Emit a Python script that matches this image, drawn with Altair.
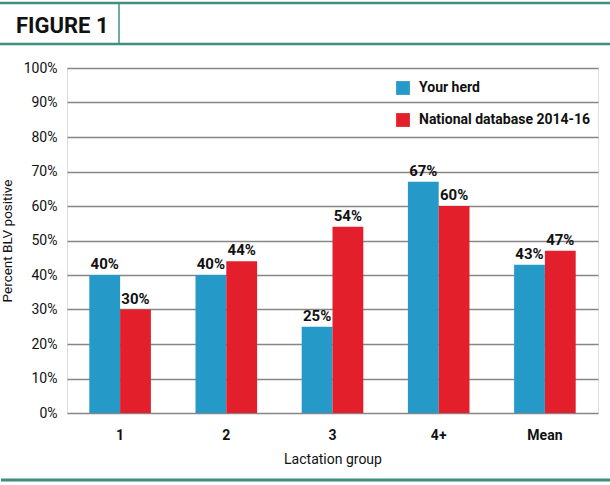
import altair as alt
import pandas as pd

# Share of cows testing BLV positive, by lactation group
groups = ["1", "2", "3", "4+", "Mean"]
your_herd = [40, 40, 25, 67, 43]
national = [30, 44, 54, 60, 47]
series_names = ["Your herd", "National database 2014-16"]
y_ticks = [0, 10, 20, 30, 40, 50, 60, 70, 80, 90, 100]

FONT = "Roboto, Liberation Sans, sans-serif"
BLUE = "#2599c8"
RED = "#e21f2b"
TEAL = "#3f8f7f"
INK = "#111111"

rows = []
for g, a, b in zip(groups, your_herd, national):
    rows.append({"group": g, "series": series_names[0], "value": a})
    rows.append({"group": g, "series": series_names[1], "value": b})
df = pd.DataFrame(rows)

W, H = 531, 345

x_enc = alt.X(
    "group:N",
    sort=groups,
    scale=alt.Scale(paddingInner=0.42, paddingOuter=0.21),
    axis=alt.Axis(
        title="Lactation group",
        labelAngle=0,
        labelFont=FONT,
        labelFontSize=14,
        labelFontWeight="bold",
        labelColor=INK,
        labelPadding=15,
        titleFont=FONT,
        titleFontSize=14,
        titleFontWeight="normal",
        titleColor=INK,
        titlePadding=10,
        domain=False,
        ticks=False,
    ),
)
y_enc = alt.Y(
    "value:Q",
    scale=alt.Scale(domain=[0, 100], nice=False),
    axis=alt.Axis(
        title="Percent BLV positive",
        values=y_ticks,
        tickCount=11,
        labelOverlap=False,
        labelExpr="datum.value + '%'",
        labelFont=FONT,
        labelFontSize=14,
        labelColor=INK,
        labelPadding=10,
        titleFont=FONT,
        titleFontSize=13.5,
        titleFontWeight="normal",
        titleColor=INK,
        titlePadding=9,
        domain=False,
        ticks=False,
        grid=True,
        gridColor="#868686",
        gridWidth=1.7,
    ),
)
color_enc = alt.Color(
    "series:N",
    sort=series_names,
    scale=alt.Scale(domain=series_names, range=[BLUE, RED]),
    legend=alt.Legend(
        title=None,
        orient="none",
        legendX=329,
        legendY=13,
        symbolType="square",
        symbolSize=190,
        symbolStrokeWidth=0,
        labelFont=FONT,
        labelFontSize=14,
        labelFontWeight="bold",
        labelColor=INK,
        labelOffset=9,
        labelLimit=0,
        rowPadding=18,
        padding=0,
    ),
)

base = alt.Chart(df).encode(
    x=x_enc,
    y=y_enc,
    xOffset=alt.XOffset("series:N", sort=series_names),
)

bars = base.mark_bar().encode(color=color_enc)

labels = base.transform_calculate(label="datum.value + '%'").mark_text(
    baseline="bottom", dy=-3, font=FONT, fontSize=15, fontWeight="bold", color=INK
).encode(text="label:N")

# Header band and bottom rule
one = pd.DataFrame({"k": [0]})
top_rule = alt.Chart(one).mark_rule(color=TEAL, strokeWidth=2.5).encode(
    x=alt.value(-67), x2=alt.value(543), y=alt.value(-65)
)
head_rule = alt.Chart(one).mark_rule(color=TEAL, strokeWidth=2.5).encode(
    x=alt.value(-67), x2=alt.value(543), y=alt.value(-24)
)
sep_rule = alt.Chart(one).mark_rule(color=TEAL, strokeWidth=1.5).encode(
    x=alt.value(52), y=alt.value(-65), y2=alt.value(-24)
)
bottom_rule = alt.Chart(one).mark_rule(color=TEAL, strokeWidth=3).encode(
    x=alt.value(-66), x2=alt.value(543), y=alt.value(412)
)
fig_title = alt.Chart(one).mark_text(
    align="left", baseline="alphabetic", font=FONT, fontSize=22, fontWeight="bold", color=INK
).encode(x=alt.value(-51), y=alt.value(-35), text=alt.value("FIGURE 1"))

chart = (
    alt.layer(bars, labels, top_rule, head_rule, sep_rule, bottom_rule, fig_title)
    .properties(
        width=W,
        height=H,
        autosize=alt.AutoSizeParams(type="none"),
        padding={"left": 67, "top": 68, "right": 12, "bottom": 72},
    )
    .configure_view(stroke=None)
    .configure(background="white")
)

chart.save("out.html", embed_options={"renderer": "svg", "actions": False})
